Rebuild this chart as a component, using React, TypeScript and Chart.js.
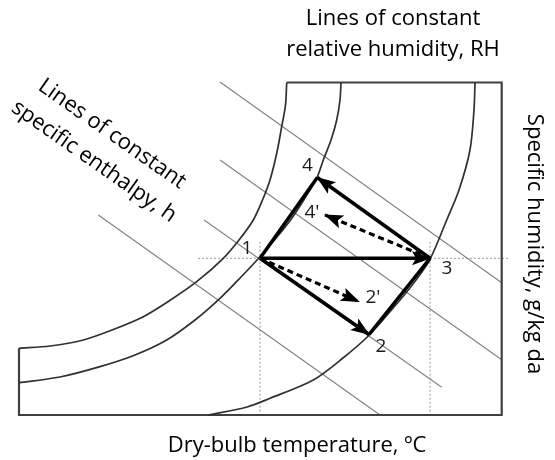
import React, { useEffect, useRef } from "react";
import { Chart, registerables } from "chart.js";

Chart.register(...registerables);

// Schematic units: x = dry-bulb temperature (0–100 across the chart), y = specific humidity (0–100)

// Chart outline (right part of the psychrometric chart)
const boxX = [55.46, 100, 100, 0, 0];
const boxY = [100, 100, 0, 0, 20.06];

// Lines of constant relative humidity
const rhSatX = [55.46, 55.21, 54.42, 53.45, 52.0, 50.45, 48.54, 45.58, 42.32, 36.81, 31.7, 25.75, 19.27, 13.32, 6.42, 0];
const rhSatY = [100, 93.23, 86.71, 79.1, 70.68, 64.66, 58.65, 52.63, 47.13, 40.09, 34.89, 29.56, 25.56, 22.56, 20.75, 20.06];
const rhMidX = [66.71, 66.5, 65.82, 64.64, 63.04, 61.67, 59.25, 56.56, 53.45, 49.93, 45.99, 41.64, 36.46, 30.6, 24.03, 16.78, 8.49, 0];
const rhMidY = [100, 94.74, 88.72, 82.71, 76.69, 71.19, 65.26, 59.25, 53.53, 47.61, 41.5, 35.1, 28.57, 22.56, 18.05, 14.53, 11.43, 9.71];
const rhLowX = [94.47, 94.26, 93.43, 91.15, 88.61, 85.15, 82.25, 78.93, 72.57, 67.12, 60.97, 52.0, 47.23, 39.22];
const rhLowY = [100, 91.73, 79.7, 67.67, 58.65, 46.83, 40.6, 34.59, 24.06, 17.14, 10.53, 5.02, 2.41, 0];

// Lines of constant specific enthalpy (start / end)
const hStartX = [41.64, 41.64, 38.33, 16.43];
const hStartY = [100.15, 76.69, 58.65, 60.15];
const hEndX = [100, 100, 87.57, 74.79];
const hEndY = [39.79, 16.63, 8.33, 0];

// States of the process
const stateLabels = ["1", "2", "3", "4", "2'", "4'"];
const stateX = [49.93, 72.51, 85.15, 61.8, 70.44, 63.39];
const stateY = [47.13, 24.21, 47.13, 71.43, 34.08, 60.15];

// Processes: [from, to] indices into the states
const solidArrows = [[0, 2], [0, 1], [2, 3]];
const plainLines = [[0, 3], [1, 2]];
const dashedArrows = [[0, 4], [2, 5]];

// Guide lines through states 1 and 3
const guideHX = [37.08, 101.3];
const guideVTopY = 52.12;

// Texts
const titleLines = ["Lines of constant", "relative humidity, RH"];
const enthalpyLines = ["Lines of constant", "specific enthalpy, h"];
const xTitle = "Dry-bulb temperature, ºC";
const yTitle = "Specific humidity, g/kg da";

const toPts = (xs: number[], ys: number[]) => xs.map((x, i) => ({ x, y: ys[i] }));
const st = (i: number) => ({ x: stateX[i], y: stateY[i] });

const labelOffsets: Record<string, [number, number]> = {
  "1": [-13, -10],
  "2": [12, 12],
  "3": [17, 10],
  "4": [-10, -12],
  "2'": [14, -4],
  "4'": [-13, -2],
};

const arrowPlugin = {
  id: "arrowHeads",
  afterDatasetsDraw(chart: any) {
    const ctx = chart.ctx;
    chart.data.datasets.forEach((ds: any, i: number) => {
      if (!ds.arrowHead) return;
      const pts = chart.getDatasetMeta(i).data;
      const a = pts[pts.length - 2];
      const b = pts[pts.length - 1];
      const ang = Math.atan2(b.y - a.y, b.x - a.x);
      ctx.save();
      ctx.translate(b.x, b.y);
      ctx.rotate(ang);
      ctx.beginPath();
      ctx.moveTo(1, 0);
      ctx.lineTo(-18, -7);
      ctx.lineTo(-14, 0);
      ctx.lineTo(-18, 7);
      ctx.closePath();
      ctx.fillStyle = "#000";
      ctx.fill();
      ctx.restore();
    });
  },
};

const textPlugin = {
  id: "texts",
  afterDraw(chart: any) {
    const ctx = chart.ctx;
    const xs = chart.scales.x;
    const ys = chart.scales.y;
    ctx.save();
    ctx.fillStyle = "#000";
    ctx.font = '22px "Open Sans"';
    ctx.textAlign = "center";
    ctx.textBaseline = "alphabetic";
    ctx.fillText(titleLines[0], 393, 25);
    ctx.fillText(titleLines[1], 393, 56);
    ctx.fillText(xTitle, 297, 452);

    ctx.save();
    ctx.translate(528, 244);
    ctx.rotate(Math.PI / 2);
    ctx.fillText(yTitle, 0, 0);
    ctx.restore();

    ctx.textBaseline = "middle";
    const ang = (35 * Math.PI) / 180;
    const centers = [
      [112, 134],
      [94, 161.5],
    ];
    enthalpyLines.forEach((t, i) => {
      ctx.save();
      ctx.translate(centers[i][0], centers[i][1]);
      ctx.rotate(ang);
      ctx.fillText(t, 0, 0);
      ctx.restore();
    });

    ctx.font = '19px "Open Sans"';
    ctx.fillStyle = "#1a1a1a";
    stateLabels.forEach((lab, i) => {
      const px = xs.getPixelForValue(stateX[i]);
      const py = ys.getPixelForValue(stateY[i]);
      const off = labelOffsets[lab];
      ctx.fillText(lab, px + off[0], py + off[1]);
    });
    ctx.restore();
  },
};

export default function App() {
  const ref = useRef<HTMLCanvasElement | null>(null);

  useEffect(() => {
    if (!ref.current) return;
    const base = { showLine: true, pointRadius: 0, fill: false, clip: false as any, tension: 0 };
    const datasets: any[] = [];

    solidArrows.forEach(([a, b]) =>
      datasets.push({ ...base, data: [st(a), st(b)], borderColor: "#000", borderWidth: 3.5, arrowHead: true, order: 0 })
    );
    dashedArrows.forEach(([a, b]) =>
      datasets.push({
        ...base,
        data: [st(a), st(b)],
        borderColor: "#000",
        borderWidth: 3.2,
        borderDash: [6, 4],
        arrowHead: true,
        order: 0,
      })
    );
    plainLines.forEach(([a, b]) =>
      datasets.push({ ...base, data: [st(a), st(b)], borderColor: "#000", borderWidth: 3.5, order: 0 })
    );

    [
      [rhSatX, rhSatY],
      [rhMidX, rhMidY],
      [rhLowX, rhLowY],
    ].forEach(([xs, ys]) =>
      datasets.push({ ...base, data: toPts(xs, ys), borderColor: "#303030", borderWidth: 1.7, tension: 0.3, order: 1 })
    );
    datasets.push({ ...base, data: toPts(boxX, boxY), borderColor: "#404040", borderWidth: 2.2, order: 1 });

    hStartX.forEach((_, i) =>
      datasets.push({
        ...base,
        data: [
          { x: hStartX[i], y: hStartY[i] },
          { x: hEndX[i], y: hEndY[i] },
        ],
        borderColor: "#808080",
        borderWidth: 1.1,
        order: 2,
      })
    );

    datasets.push({
      ...base,
      data: [
        { x: guideHX[0], y: stateY[0] },
        { x: guideHX[1], y: stateY[0] },
      ],
      borderColor: "#999",
      borderWidth: 1,
      borderDash: [2, 2],
      order: 2,
    });
    [0, 2].forEach((i) =>
      datasets.push({
        ...base,
        data: [
          { x: stateX[i], y: guideVTopY },
          { x: stateX[i], y: 0 },
        ],
        borderColor: "#999",
        borderWidth: 1,
        borderDash: [2, 2],
        order: 2,
      })
    );

    const chart = new Chart(ref.current, {
      type: "scatter",
      data: { datasets },
      options: {
        animation: false,
        responsive: false,
        events: [],
        layout: { padding: { left: 19, right: 53.3, top: 82.5, bottom: 45 } },
        scales: {
          x: { type: "linear", min: 0, max: 100, display: false },
          y: { type: "linear", min: 0, max: 100, display: false },
        },
        plugins: { legend: { display: false }, tooltip: { enabled: false }, title: { display: false } },
      },
      plugins: [arrowPlugin, textPlugin],
    } as any);
    return () => chart.destroy();
  }, []);

  return (
    <div style={{ position: "fixed", left: 0, top: 0, width: 555, height: 460, background: "#fff" }}>
      <canvas ref={ref} width={555} height={460} style={{ display: "block" }} />
    </div>
  );
}
